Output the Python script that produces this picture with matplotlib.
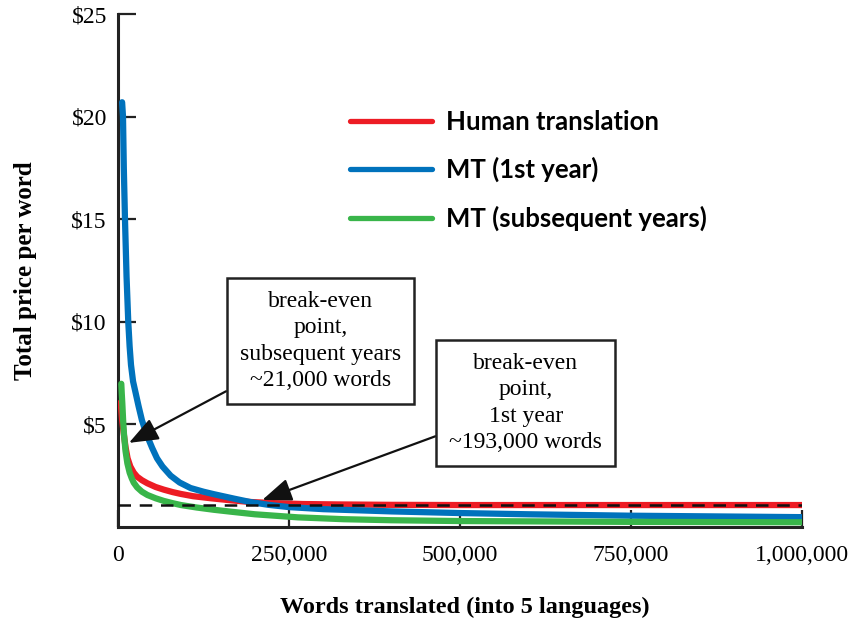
import matplotlib
matplotlib.use("Agg")
import matplotlib.pyplot as plt

# words translated, in thousands, and price per word
human_words = [4, 5, 6, 7.5, 9, 11, 14, 18, 23, 28, 35, 43, 55, 67, 80, 92, 110, 136, 165, 193, 230, 270,
               320, 400, 500, 1000]
human_price = [6.08, 5.6, 5.2, 4.8, 4.4, 3.9, 3.35, 2.95, 2.65, 2.45, 2.28, 2.13, 1.95, 1.82, 1.7, 1.61,
               1.5, 1.40, 1.3, 1.22, 1.16, 1.12, 1.10, 1.08, 1.07, 1.07]

mt1_words = [6, 7.3, 8.5, 10.2, 12.5, 15, 17, 19, 22, 26, 30, 35, 40, 45, 50, 57, 65, 77, 90, 106, 125,
             140, 170, 193, 220, 250, 300, 400, 500, 600, 750, 1000]
mt1_price = [20.7, 20.0, 17.5, 15.0, 12.2, 10.0, 8.8, 7.9, 7.1, 6.5, 5.9, 5.2, 4.7, 4.25, 3.85, 3.35, 2.95,
             2.5, 2.17, 1.9, 1.72, 1.6, 1.38, 1.22, 1.08, 0.97, 0.87, 0.76, 0.68, 0.62, 0.55, 0.48]

mt2_words = [4.8, 5.5, 6.3, 7.5, 8.8, 11, 13.7, 17, 20, 23, 28, 35, 43, 55, 67, 80, 92, 115, 140, 164,
             200, 263, 330, 400, 500, 750, 1000]
mt2_price = [6.98, 6.5, 6.03, 5.2, 4.5, 3.7, 3.1, 2.65, 2.38, 2.16, 1.93, 1.72, 1.56, 1.4, 1.27, 1.16,
             1.07, 0.95, 0.84, 0.75, 0.62, 0.47, 0.38, 0.33, 0.29, 0.25, 0.23]

breakeven_price = 1.05
series_labels = ["Human translation", "MT (1st year)", "MT (subsequent years)"]
x_ticks = [0, 250000, 500000, 750000, 1000000]
x_ticklabels = ["0", "250,000", "500,000", "750,000", "1,000,000"]
y_ticks = [5, 10, 15, 20, 25]
y_ticklabels = ["\\$5", "\\$10", "\\$15", "\\$20", "\\$25"]

serif = "Liberation Serif"
red = "#ED1C24"
blue = "#0072BC"
green = "#39B54A"

fig = plt.figure(figsize=(8.5, 6.25), dpi=100)
ax = fig.add_axes([118 / 850, 98 / 625, 684 / 850, 513 / 625])

def k(words):
    return [w * 1000 for w in words]

lw = 4.5
ax.plot(k(human_words), human_price, color=red, lw=lw, solid_capstyle="round", solid_joinstyle="round",
        label=series_labels[0], zorder=3)
ax.plot(k(mt1_words), mt1_price, color=blue, lw=lw, solid_capstyle="round", solid_joinstyle="round",
        label=series_labels[1], zorder=4)
ax.plot(k(mt2_words), mt2_price, color=green, lw=lw, solid_capstyle="round", solid_joinstyle="round",
        label=series_labels[2], zorder=5)
ax.plot([0, 1000000], [breakeven_price, breakeven_price], color="#111111", lw=1.8,
        linestyle=(0, (5, 3.5)), zorder=6)

ax.set_xlim(0, 1000000)
ax.set_ylim(0, 25)
for s in ["top", "right"]:
    ax.spines[s].set_visible(False)
for s in ["left", "bottom"]:
    ax.spines[s].set_linewidth(2.2)
    ax.spines[s].set_color("#222222")

ax.set_xticks(x_ticks)
ax.set_xticklabels(x_ticklabels, fontfamily=serif, fontsize=17)
ax.set_yticks(y_ticks)
ax.set_yticklabels(y_ticklabels, fontfamily=serif, fontsize=17)
ax.tick_params(axis="x", direction="in", length=12, width=1.6, pad=13, color="#222222")
ax.tick_params(axis="y", direction="in", length=13, width=1.6, pad=8, color="#222222")

ax.set_xlabel("Words translated (into 5 languages)", fontfamily=serif, fontsize=17.5, fontweight="bold")
ax.set_ylabel("Total price per word", fontfamily=serif, fontsize=18, fontweight="bold")
ax.xaxis.set_label_coords(0.507, -0.136)
ax.yaxis.set_label_coords(-0.118, 0.5)

leg = ax.legend(loc="upper left", bbox_to_anchor=(350 / 850, 1 - 110 / 625), bbox_transform=fig.transFigure,
                frameon=False, handlelength=3.2, handletextpad=0.55, labelspacing=0.9, borderpad=0,
                borderaxespad=0, prop={"family": "Lato", "weight": "bold", "size": 18.5})
for line in leg.get_lines():
    line.set_linewidth(3.8)

box = dict(boxstyle="square,pad=0.55", fc="white", ec="#222222", lw=1.8)
arrow = dict(arrowstyle="-|>,head_length=0.9,head_width=0.35", mutation_scale=20,
             color="#111111", lw=1.6, shrinkA=0, shrinkB=0)
ax.annotate("break-even\npoint,\nsubsequent years\n~21,000 words", xy=(16000, 4.1), xytext=(296000, 9.06),
            ha="center", va="center", fontfamily=serif, fontsize=17, linespacing=1.33,
            bbox=box, arrowprops=arrow, zorder=7)
ax.annotate("break-even\npoint,\n1st year\n~193,000 words", xy=(211000, 1.32), xytext=(596000, 6.04),
            ha="center", va="center", fontfamily=serif, fontsize=17, linespacing=1.33,
            bbox=box, arrowprops=arrow, zorder=7)

fig.savefig("out.png", dpi=100)
